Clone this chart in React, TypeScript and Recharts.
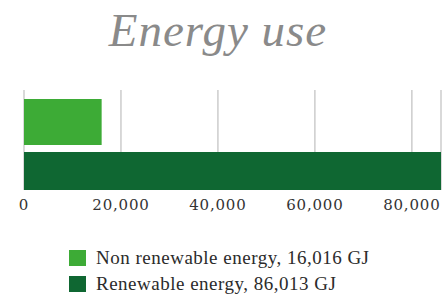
import { BarChart, Bar, XAxis, YAxis, CartesianGrid, Legend } from 'recharts';

const seriesNames = ['Non renewable energy', 'Renewable energy'];
const seriesKeys = ['nonRenewable', 'renewable'];
const seriesValues = [16016, 86013];
const units = 'GJ';
const xTicks = [0, 20000, 40000, 60000, 80000];

const COLORS = ['#3dab36', '#0f6732'];
const BAR_SIZES = [46, 38];

// single category row holding both series
const data = [
  {
    name: 'Energy use',
    [seriesKeys[0]]: seriesValues[0],
    [seriesKeys[1]]: seriesValues[1],
  },
];

const SERIF = '"Liberation Serif", "DejaVu Serif", serif';

const renderLegend = () => (
  <div>
    {seriesNames.map((name, i) => (
      <div key={name} style={{ display: 'flex', alignItems: 'center', height: 26 }}>
        <span style={{ width: 17, height: 16, background: COLORS[i], marginRight: 10, display: 'inline-block' }} />
        <span style={{ fontFamily: SERIF, fontSize: 19, letterSpacing: 0.5, color: '#2b2b2b' }}>
          {`${name}, ${seriesValues[i].toLocaleString('en-US')} ${units}`}
        </span>
      </div>
    ))}
  </div>
);

const renderTick = (props: any) => {
  const { x, y, payload } = props;
  return (
    <text
      x={x}
      y={y}
      dy={12}
      textAnchor="middle"
      fontFamily='"DejaVu Serif", serif'
      fontSize={15}
      letterSpacing={0.8}
      fill="#333"
    >
      {Number(payload.value).toLocaleString('en-US')}
    </text>
  );
};

export default function App() {
  return (
    <div style={{ position: 'absolute', top: 0, left: 0, width: 446, height: 298, background: '#fff' }}>
      <div
        style={{
          position: 'absolute',
          top: 4,
          left: -5,
          width: 446,
          textAlign: 'center',
          fontFamily: SERIF,
          fontStyle: 'italic',
          fontSize: 47,
          letterSpacing: 1,
          color: '#8a8a8a',
          lineHeight: '52px',
        }}
      >
        Energy use
      </div>
      <BarChart
        width={446}
        height={298}
        data={data}
        layout="vertical"
        margin={{ top: 90, right: 5, bottom: 78, left: 24 }}
        barGap={7}
      >
        <CartesianGrid horizontal={false} stroke="#cccccc" strokeWidth={1.5} />
        <XAxis
          type="number"
          domain={[0, 86013]}
          ticks={xTicks}
          axisLine={false}
          tickLine={false}
          tick={renderTick}
          height={30}
        />
        <YAxis
          type="category"
          dataKey="name"
          width={0}
          tick={false}
          tickLine={false}
          axisLine={{ stroke: '#5a5a5a', strokeWidth: 1.5 }}
          padding={{ top: 8, bottom: 0 }}
        />
        {seriesKeys.map((key, i) => (
          <Bar
            key={key}
            dataKey={key}
            name={seriesNames[i]}
            fill={COLORS[i]}
            barSize={BAR_SIZES[i]}
            isAnimationActive={false}
          />
        ))}
        <Legend
          layout="vertical"
          verticalAlign="middle"
          align="center"
          content={renderLegend}
          wrapperStyle={{ top: 245, left: 69, width: 370 }}
        />
      </BarChart>
    </div>
  );
}
